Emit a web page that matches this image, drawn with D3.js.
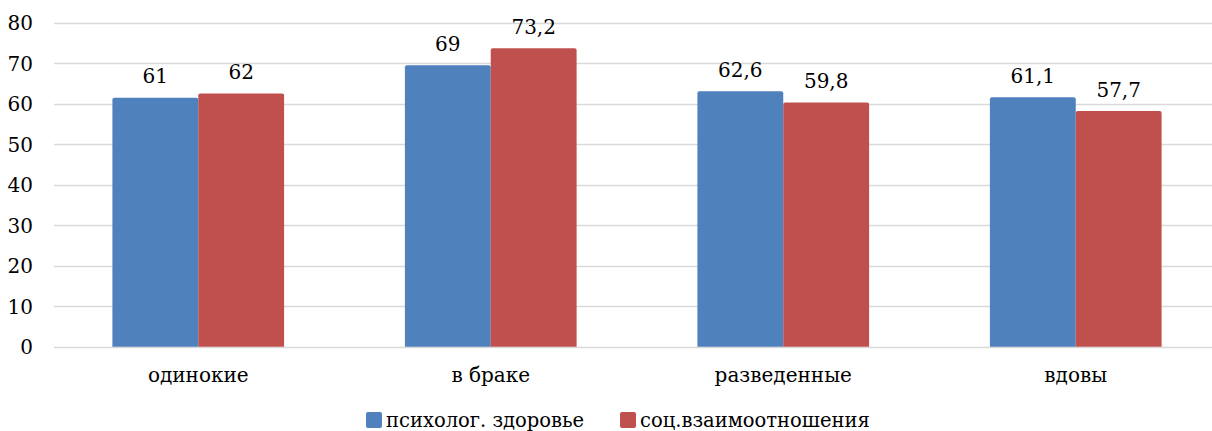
<!DOCTYPE html>
<html><head><meta charset="utf-8">
<script src="https://cdn.jsdelivr.net/npm/d3@7"></script>
<style>body{margin:0;background:#fff}svg{display:block}svg text{font-family:"DejaVu Serif","Liberation Serif",serif}</style>
</head><body>
<svg id="c" width="1212" height="431"></svg>
<script>
const categories = ["одинокие", "в браке", "разведенные", "вдовы"];
const seriesNames = ["психолог. здоровье", "соц.взаимоотношения"];
const psych = [61, 69, 62.6, 61.1];
const social = [62, 73.2, 59.8, 57.7];
const yTicks = [0, 10, 20, 30, 40, 50, 60, 70, 80];
const colors = ["#4F81BD", "#C0504D"];

const svg = d3.select("#c");
const pLeft = 52, pRight = 1222, pTop = 22.7, pBottom = 346.7;
const x = d3.scaleBand().domain(categories).range([pLeft, pRight]).paddingInner(0.413).paddingOuter(0.2065);
const x1 = d3.scaleBand().domain([0, 1]).range([0, x.bandwidth()]);
const y = d3.scaleLinear().domain([0, 80]).range([pBottom, pTop]);

svg.append("g").selectAll("line").data(yTicks).join("line")
  .attr("x1", 54).attr("x2", 1212)
  .attr("y1", d => Math.round(y(d)) + 0.5).attr("y2", d => Math.round(y(d)) + 0.5)
  .attr("stroke", "#d9d9d9").attr("stroke-width", 1.3);

svg.append("g").selectAll("text").data(yTicks).join("text")
  .attr("x", 33).attr("y", d => y(d) + 7.5)
  .attr("text-anchor", "end").attr("font-size", 20).attr("fill", "#000").text(d => d);

const fmt = v => String(v).replace(".", ",");
const series = [psych, social];
series.forEach((vals, si) => {
  const g = svg.append("g");
  g.selectAll("path").data(categories).join("path")
    .attr("fill", colors[si])
    .attr("d", (c, i) => {
      const x0 = x(c) + x1(si), w = x1.bandwidth(), y0 = y(vals[i]) - 2, yb = y(0), r = 2;
      return `M${x0},${yb}V${y0 + r}Q${x0},${y0} ${x0 + r},${y0}H${x0 + w - r}Q${x0 + w},${y0} ${x0 + w},${y0 + r}V${yb}Z`;
    });
  g.selectAll("text").data(categories).join("text")
    .attr("x", (c) => x(c) + x1(si) + x1.bandwidth() / 2)
    .attr("y", (c, i) => y(vals[i]) - 16.5)
    .attr("text-anchor", "middle").attr("font-size", 20).attr("fill", "#000")
    .text((c, i) => fmt(vals[i]));
});

svg.append("g").selectAll("text").data(categories).join("text")
  .attr("x", c => x(c) + x.bandwidth() / 2).attr("y", 381.5)
  .attr("text-anchor", "middle").attr("font-size", 20).attr("fill", "#000").text(c => c);

const legX = [366, 620];
const lg = svg.append("g");
seriesNames.forEach((n, i) => {
  lg.append("rect").attr("x", legX[i]).attr("y", 412).attr("width", 16).attr("height", 16).attr("rx", 2).attr("fill", colors[i]);
  lg.append("text").attr("x", legX[i] + 20).attr("y", 426.5).attr("font-size", 19.5).attr("fill", "#000").text(n);
});
</script>
</body></html>
